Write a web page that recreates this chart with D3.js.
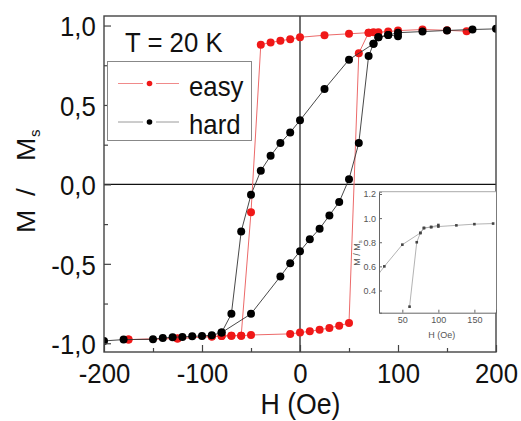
<!DOCTYPE html>
<html><head><meta charset="utf-8">
<script src="https://cdn.jsdelivr.net/npm/d3@7"></script>
<style>body{margin:0;background:#fff}svg{display:block}text{font-family:"Liberation Sans",Arial,sans-serif}</style>
</head><body><svg id="c" width="521" height="421"></svg>
<script>
// ---- data ----
const easyDownH = [170, 150, 125, 100, 90, 80, 75, 70, 50, 25, 0, -10, -20, -30, -40, -50, -60, -70, -80, -90, -125, -175];
const easyDownM = [0.964, 0.970, 0.975, 0.968, 0.962, 0.958, 0.957, 0.955, 0.948, 0.939, 0.926, 0.914, 0.904, 0.893, 0.879, -0.175, -0.952, -0.952, -0.955, -0.958, -0.970, -0.977];
const easyUpH = [-175, -125, -90, -80, -70, -60, -50, -10, 0, 10, 20, 30, 40, 50, 60, 70];
const easyUpM = [-0.977, -0.970, -0.958, -0.955, -0.952, -0.952, -0.948, -0.941, -0.933, -0.925, -0.915, -0.904, -0.889, -0.873, 0.826, 0.955];
const hardDownH = [200, 176, 150, 125, 100, 90, 80, 75, 50, 25, 0, -10, -20, -30, -40, -50, -60, -70, -80, -90, -100, -110, -120, -130, -140, -150, -180, -200];
const hardDownM = [0.979, 0.975, 0.969, 0.962, 0.955, 0.940, 0.926, 0.885, 0.785, 0.600, 0.403, 0.327, 0.260, 0.180, 0.086, -0.065, -0.296, -0.815, -0.933, -0.950, -0.954, -0.956, -0.960, -0.962, -0.967, -0.975, -0.977, -0.985];
const hardUpH = [-80, -50, -20, -10, 0, 10, 20, 30, 40, 50, 60, 70, 75, 80, 90, 100];
const hardUpM = [-0.933, -0.815, -0.579, -0.497, -0.421, -0.346, -0.279, -0.195, -0.111, 0.033, 0.260, 0.808, 0.885, 0.926, 0.940, 0.933];
// inset (zoom of right branch, hard axis)
const insetDownH = [0, 25, 50, 75, 80, 90, 100, 125, 150, 176];
const insetDownM = [0.40, 0.60, 0.78, 0.877, 0.918, 0.926, 0.93, 0.94, 0.95, 0.955];
const insetUpH = [60, 70, 75, 80, 90, 100];
const insetUpM = [0.266, 0.80, 0.877, 0.918, 0.926, 0.943];
// ticks
const xMajor = [-200, -100, 0, 100, 200];
const xMinor = [-150, -50, 50, 150];
const yMajor = [-1, -0.5, 0, 0.5, 1];
const yMinor = [-0.75, -0.25, 0.25, 0.75];
const insetXTicks = [50, 100, 150];
const insetYTicks = [0.4, 0.6, 0.8, 1.0, 1.2];
const seriesNames = ["easy", "hard"];
const title = "T = 20 K";

const svg = d3.select("#c");
const L = 104, R = 496, T = 16, B = 352;
const x = d3.scaleLinear().domain([-200, 200]).range([L, R]);
const y = d3.scaleLinear().domain([-1.055, 1.06]).range([B, T]);
const SX = 0.92;
const fix = s => s.replace("\u2212", "-");

svg.append("defs").append("clipPath").attr("id", "clip")
  .append("rect").attr("x", L).attr("y", T).attr("width", R - L).attr("height", B - T);

// zero lines
svg.append("line").attr("x1", x(0)).attr("x2", x(0)).attr("y1", T).attr("y2", B).attr("stroke", "#111").attr("stroke-width", 1.2);
svg.append("line").attr("x1", L).attr("x2", R).attr("y1", y(0)).attr("y2", y(0)).attr("stroke", "#111").attr("stroke-width", 1.2);

const zip = (hs, ms) => hs.map((h, i) => [h, ms[i]]);
const line = d3.line().x(d => x(d[0])).y(d => y(d[1]));
const dataG = svg.append("g").attr("clip-path", "url(#clip)");

function drawSeries(branches, lineColor, lw, dotColor) {
  branches.forEach(b => {
    dataG.append("path").datum(b).attr("d", line).attr("fill", "none").attr("stroke", lineColor).attr("stroke-width", lw);
  });
  branches.forEach(b => {
    dataG.selectAll(null).data(b).enter().append("circle")
      .attr("cx", d => x(d[0])).attr("cy", d => y(d[1])).attr("r", 4).attr("fill", dotColor);
  });
}
drawSeries([zip(easyDownH, easyDownM), zip(easyUpH, easyUpM)], "#ec6a6a", 1, "#f01818");
drawSeries([zip(hardDownH, hardDownM), zip(hardUpH, hardUpM)], "#333", 0.9, "#000");

// axes
const bx = svg.append("g").attr("transform", `translate(0,${B})`)
  .call(d3.axisBottom(x).tickValues(xMajor).tickSize(-7).tickPadding(11).tickFormat(d => fix(d3.format("d")(d))));
const bxm = svg.append("g").attr("transform", `translate(0,${B})`)
  .call(d3.axisBottom(x).tickValues(xMinor).tickSize(-4).tickFormat(""));
const ly = svg.append("g").attr("transform", `translate(${L},0)`)
  .call(d3.axisLeft(y).tickValues(yMajor).tickSize(-7).tickPadding(9).tickFormat(d => fix(d3.format(".1f")(d)).replace(".", ",")));
const lym = svg.append("g").attr("transform", `translate(${L},0)`)
  .call(d3.axisLeft(y).tickValues(yMinor).tickSize(-4).tickFormat(""));
[bx, bxm, ly, lym].forEach(g => {
  g.select(".domain").remove();
  g.selectAll("line").attr("stroke", "#444").attr("stroke-width", 1.2);
  g.selectAll("text").attr("font-size", 28).attr("fill", "#111").attr("font-family", "Liberation Sans, Arial, sans-serif").attr("transform", `scale(${SX},1)`);
});
ly.selectAll("text").attr("dy", "0.37em");

// frame
svg.append("rect").attr("x", L).attr("y", T).attr("width", R - L).attr("height", B - T)
  .attr("fill", "none").attr("stroke", "#444").attr("stroke-width", 1.4);

function txt(tx, ty, s, size, anchor) {
  return svg.append("text").attr("transform", `translate(${tx},${ty}) scale(${SX},1)`)
    .attr("font-size", size).attr("text-anchor", anchor || "start").attr("fill", "#111").text(s);
}
// axis titles
txt(300.5, 414, "H (Oe)", 29, "middle");
const yt = svg.append("text").attr("transform", `translate(35,233) rotate(-90) scale(1,${SX})`).attr("font-size", 28).attr("fill", "#111");
yt.append("tspan").attr("x", 0).text("M");
yt.append("tspan").attr("x", 37).text("/");
yt.append("tspan").attr("x", 72).text("M");
yt.append("tspan").attr("x", 96).attr("dy", 5).attr("font-size", 15).text("s");

// title
txt(125, 52, title, 28);

// legend
svg.append("rect").attr("x", 107.5).attr("y", 61.5).attr("width", 144).attr("height", 79)
  .attr("fill", "#fff").attr("stroke", "#888").attr("stroke-width", 1);
const legColors = [["#f08a8a", "#f01818"], ["#9a9a9a", "#000"]];
seriesNames.forEach((n, i) => {
  const ly0 = 83.5 + i * 38.5;
  const c = legColors[i];
  svg.append("line").attr("x1", 118).attr("x2", 143).attr("y1", ly0).attr("y2", ly0).attr("stroke", c[0]).attr("stroke-width", 1);
  svg.append("line").attr("x1", 156).attr("x2", 179).attr("y1", ly0).attr("y2", ly0).attr("stroke", c[0]).attr("stroke-width", 1);
  svg.append("circle").attr("cx", 149.5).attr("cy", ly0).attr("r", 2.8).attr("fill", c[1]);
  txt(189, ly0 + 12, n, 28);
});

// inset
const iL = 379, iR = 496, iT = 191.7, iB = 312.7;
const ix = d3.scaleLinear().domain([17.6, 180]).range([iL, iR]);
const iy = d3.scaleLinear().domain([0.216, 1.219]).range([iB, iT]);
svg.append("rect").attr("x", iL).attr("y", iT).attr("width", iR - iL).attr("height", iB - iT).attr("fill", "#fff").attr("stroke", "none");
svg.append("clipPath").attr("id", "iclip").append("rect").attr("x", iL).attr("y", iT).attr("width", iR - iL).attr("height", iB - iT);
const ig = svg.append("g").attr("clip-path", "url(#iclip)");
const iline = d3.line().x(d => ix(d[0])).y(d => iy(d[1]));
[zip(insetDownH, insetDownM), zip(insetUpH, insetUpM)].forEach(b => {
  ig.append("path").datum(b).attr("d", iline).attr("fill", "none").attr("stroke", "#aaa").attr("stroke-width", 0.9);
});
[zip(insetDownH, insetDownM), zip(insetUpH, insetUpM)].forEach(b => {
  ig.selectAll(null).data(b).enter().append("rect")
    .attr("x", d => ix(d[0]) - 1.3).attr("y", d => iy(d[1]) - 1.3).attr("width", 2.6).attr("height", 2.6).attr("fill", "#444");
});
const iax = svg.append("g").attr("transform", `translate(0,${iB})`)
  .call(d3.axisBottom(ix).tickValues(insetXTicks).tickSize(-3).tickPadding(4));
const iay = svg.append("g").attr("transform", `translate(${iL},0)`)
  .call(d3.axisLeft(iy).tickValues(insetYTicks).tickSize(-3).tickPadding(3).tickFormat(d3.format(".1f")));
[iax, iay].forEach(g => {
  g.select(".domain").attr("stroke", "#666").attr("stroke-width", 1);
  g.selectAll("line").attr("stroke", "#666");
  g.selectAll("text").attr("font-size", 9).attr("fill", "#555").attr("font-family", "Liberation Sans, Arial, sans-serif");
});
svg.append("line").attr("x1", iL).attr("x2", iR).attr("y1", iT).attr("y2", iT).attr("stroke", "#aaa").attr("stroke-width", 1);
svg.append("text").attr("x", 441.7).attr("y", 338).attr("text-anchor", "middle").attr("font-size", 9).attr("fill", "#555").text("H (Oe)");
const iyt = svg.append("text").attr("transform", "translate(360,253) rotate(-90)").attr("text-anchor", "middle").attr("font-size", 9).attr("fill", "#555");
iyt.append("tspan").text("M / M");
iyt.append("tspan").attr("dy", 2).attr("font-size", 6).text("s");
</script></body></html>
